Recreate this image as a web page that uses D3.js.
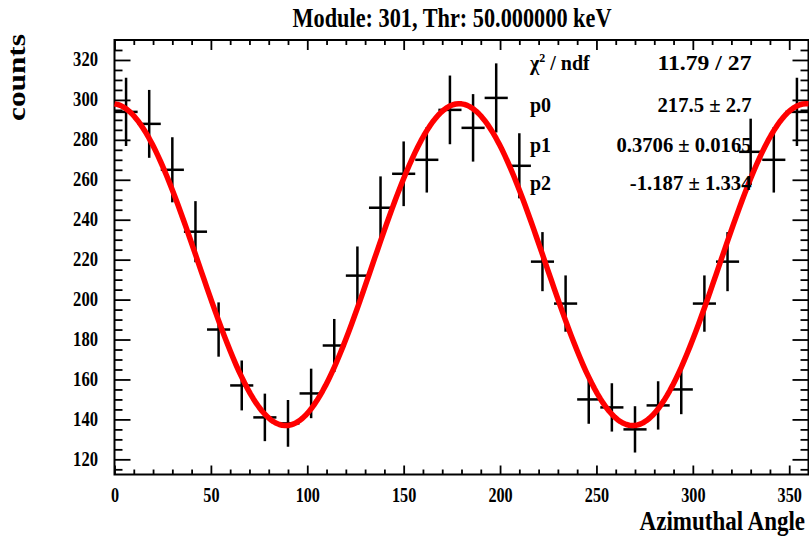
<!DOCTYPE html>
<html>
<head>
<meta charset="utf-8">
<script src="https://cdn.jsdelivr.net/npm/d3@7"></script>
<style>
  html, body { margin: 0; padding: 0; background: #fff; }
  svg { display: block; }
  text { font-family: "Liberation Serif", "DejaVu Serif", serif; font-weight: bold; fill: #000; }
</style>
</head>
<body>
<svg id="chart" width="809" height="538"></svg>
<script>
// Histogram: counts per 12-degree azimuthal bin
const binCenters = [6, 18, 30, 42, 54, 66, 78, 90, 102, 114, 126, 138, 150, 162, 174,
                    186, 198, 210, 222, 234, 246, 258, 270, 282, 294, 306, 318, 330, 342, 354];
const counts = [294, 288, 265, 234, 185, 157, 141, 138, 153, 177, 212, 246, 263, 270, 295,
                286, 301, 267, 219, 198, 150, 146, 135, 147, 155, 198, 219, 274, 270, 294];
const countErrors = [17.1, 17.0, 16.3, 15.3, 13.6, 12.5, 11.9, 11.7, 12.4, 13.3, 14.6, 15.7, 16.2, 16.4, 17.2,
                     16.9, 17.3, 16.3, 14.8, 14.1, 12.2, 12.1, 11.6, 12.1, 12.4, 14.1, 14.8, 16.6, 16.4, 17.1];
const binWidth = 12;

// Fit result: p0 * (1 + p1 * cos(2 * (phi - p2)))
const fitParams = [217.5, 0.3706, -1.187];
const statLabels = ["\u03C7", "p0", "p1", "p2"];
const statValues = ["11.79 / 27", "217.5 \u00B1 2.7", "0.3706 \u00B1 0.0165", "-1.187 \u00B1 1.334"];

// Axis ticks
const xMajorTicks = [0, 50, 100, 150, 200, 250, 300, 350];
const yMajorTicks = [120, 140, 160, 180, 200, 220, 240, 260, 280, 300, 320];

const titleText = "Module: 301, Thr: 50.000000 keV";
const xTitle = "Azimuthal Angle";
const yTitle = "counts";

const svg = d3.select("#chart");
const frame = { left: 114.5, right: 808.5, top: 40, bottom: 474.5 };

const x = d3.scaleLinear().domain([0, 360]).range([frame.left, frame.right]);
const y = d3.scaleLinear().domain([112.4, 330]).range([frame.bottom, frame.top]);

const xMinorTicks = d3.range(0, 361, 10).filter(v => v % 50 !== 0);
const yMinorTicks = d3.range(115, 330, 5).filter(v => v % 20 !== 0);

function styleAxis(g) {
  g.select(".domain").remove();
  g.selectAll(".tick line").attr("stroke", "#000").attr("stroke-width", 1.8);
}

// Bottom axis with labels
const gxB = svg.append("g").attr("transform", `translate(0,${frame.bottom})`)
  .call(d3.axisBottom(x).tickValues(xMajorTicks).tickSize(-9).tickPadding(0).tickFormat(d3.format("d")));
styleAxis(gxB);
gxB.selectAll(".tick text")
  .attr("y", 27.2).attr("dy", null)
  .attr("font-size", 20)
  .attr("text-anchor", "middle")
  .attr("textLength", d => String(d).length * 8.1)
  .attr("lengthAdjust", "spacingAndGlyphs");
svg.append("g").attr("transform", `translate(0,${frame.bottom})`)
  .call(d3.axisBottom(x).tickValues(xMinorTicks).tickSize(-5).tickFormat(""))
  .call(styleAxis);

// Top axis, ticks only
svg.append("g").attr("transform", `translate(0,${frame.top})`)
  .call(d3.axisTop(x).tickValues(xMajorTicks).tickSize(-10).tickFormat(""))
  .call(styleAxis);
svg.append("g").attr("transform", `translate(0,${frame.top})`)
  .call(d3.axisTop(x).tickValues(xMinorTicks).tickSize(-5).tickFormat(""))
  .call(styleAxis);

// Left axis with labels
const gyL = svg.append("g").attr("transform", `translate(${frame.left},0)`)
  .call(d3.axisLeft(y).tickValues(yMajorTicks).tickSize(-16).tickPadding(16.5).tickFormat(d3.format("d")));
styleAxis(gyL);
gyL.selectAll(".tick text")
  .attr("dy", null).attr("y", 6)
  .attr("font-size", 20)
  .attr("text-anchor", "end")
  .attr("textLength", d => String(d).length * 8.3)
  .attr("lengthAdjust", "spacingAndGlyphs");
svg.append("g").attr("transform", `translate(${frame.left},0)`)
  .call(d3.axisLeft(y).tickValues(yMinorTicks).tickSize(-8).tickFormat(""))
  .call(styleAxis);

// Right axis, ticks only
svg.append("g").attr("transform", `translate(${frame.right},0)`)
  .call(d3.axisRight(y).tickValues(yMajorTicks).tickSize(-16).tickFormat(""))
  .call(styleAxis);
svg.append("g").attr("transform", `translate(${frame.right},0)`)
  .call(d3.axisRight(y).tickValues(yMinorTicks).tickSize(-8).tickFormat(""))
  .call(styleAxis);

// Plot frame
svg.append("rect")
  .attr("x", frame.left).attr("y", frame.top)
  .attr("width", frame.right - frame.left).attr("height", frame.bottom - frame.top)
  .attr("fill", "none").attr("stroke", "#000").attr("stroke-width", 2);

// Data points with error bars
const bins = binCenters.map((c, i) => ({ c, v: counts[i], e: countErrors[i] }));
const pts = svg.append("g").attr("stroke", "#000").attr("stroke-width", 2.5);
pts.selectAll("line.ey").data(bins).join("line").attr("class", "ey")
  .attr("x1", d => x(d.c)).attr("x2", d => x(d.c))
  .attr("y1", d => y(d.v - d.e)).attr("y2", d => y(d.v + d.e));
pts.selectAll("line.ex").data(bins).join("line").attr("class", "ex")
  .attr("x1", d => x(d.c - binWidth / 2)).attr("x2", d => x(d.c + binWidth / 2))
  .attr("y1", d => y(d.v)).attr("y2", d => y(d.v));

// Fit curve
const [p0, p1, p2] = fitParams;
const fitFn = phi => p0 * (1 + p1 * Math.cos(2 * (phi - p2) * Math.PI / 180));
const fitPts = d3.range(0, 360.01, 1.5).map(phi => [phi, fitFn(phi)]);
svg.append("path")
  .datum(fitPts)
  .attr("fill", "none").attr("stroke", "#ff0000").attr("stroke-width", 5.5)
  .attr("stroke-linejoin", "round")
  .attr("d", d3.line().x(d => x(d[0])).y(d => y(d[1])));

// Statistics box (no border, transparent)
const statBaselines = [70, 111.7, 151.7, 190];
const statValueWidths = [94, 94, 135, 121.7];
const stats = svg.append("g");
statLabels.forEach((lab, i) => {
  const t = stats.append("text").attr("x", 530).attr("y", statBaselines[i]).attr("font-size", 20);
  if (i === 0) {
    t.append("tspan").text(lab);
    t.append("tspan").attr("font-size", 12).attr("dy", -8).text("2");
    t.append("tspan").attr("dy", 8).text(" / ndf");
  } else {
    t.text(lab);
  }
  stats.append("text").attr("x", 751.5).attr("y", statBaselines[i])
    .attr("font-size", 20).attr("text-anchor", "end")
    .attr("textLength", statValueWidths[i]).attr("lengthAdjust", "spacingAndGlyphs")
    .text(statValues[i]);
});

// Titles
svg.append("text")
  .attr("x", 452).attr("y", 27.3).attr("font-size", 27).attr("text-anchor", "middle")
  .attr("textLength", 319).attr("lengthAdjust", "spacingAndGlyphs")
  .text(titleText);

// x-axis title: natural width, stretched vertically
svg.append("text")
  .attr("transform", "translate(805,529.5) scale(1,1.18)")
  .attr("font-size", 23).attr("text-anchor", "end")
  .text(xTitle);

svg.append("text")
  .attr("transform", "translate(25,77.5) rotate(-90)")
  .attr("font-size", 26).attr("text-anchor", "middle")
  .attr("textLength", 87).attr("lengthAdjust", "spacingAndGlyphs")
  .text(yTitle);
</script>
</body>
</html>
